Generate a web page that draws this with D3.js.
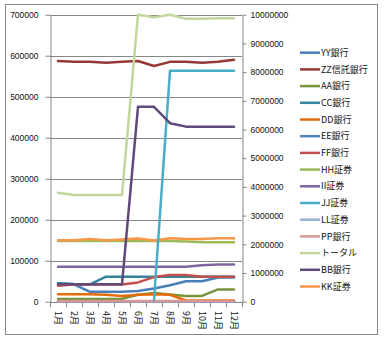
<!DOCTYPE html>
<html><head><meta charset="utf-8">
<script src="https://cdn.jsdelivr.net/npm/d3@7"></script>
<style>html,body{margin:0;padding:0;background:#fff;} svg{display:block;}</style>
</head><body><svg id="c" width="386" height="343"></svg>
<script>
const months = ['1月','2月','3月','4月','5月','6月','7月','8月','9月','10月','11月','12月'];
const leftTicks = [0,100000,200000,300000,400000,500000,600000,700000];
const rightTicks = [0,1000000,2000000,3000000,4000000,5000000,6000000,7000000,8000000,9000000,10000000];

// primary axis series
const yyBank   = [45000,42000,24000,24000,24000,26000,32000,40000,50000,50000,59000,59000];
const zzTrust  = [587000,585000,585000,583000,585000,587000,575000,585000,585000,583000,585000,590000];
const aaBank   = [6500,6500,6500,6500,7000,17000,21000,17500,14000,14000,30000,30000];
const ccBank   = [45000,43000,42000,61000,61000,61000,61000,61000,61000,61000,61000,61000];
const ddBank   = [18000,18000,18000,17000,14000,17000,18000,17000,3000,3000,3000,3000];
const eeBank   = [1000,1000,1000,1000,1000,1000,1000,1000,1000,1000,1000,1000];
const ffBank   = [39000,42000,42000,42000,42000,47000,60000,65000,65000,61000,61000,61000];
const hhSec    = [148000,148000,148000,148000,148000,148000,148000,148000,147000,145000,145000,145000];
const iiSec    = [85000,85000,85000,85000,85000,85000,85000,85000,85000,89000,91000,91000];
const llSec    = [800,800,800,800,800,800,800,800,800,800,800,800];
const ppBank   = [2000,2000,2000,2000,2000,2000,2000,2000,2000,2000,2000,2000];
const kkSec    = [150000,150000,153000,150000,152000,154000,149000,155000,153000,153000,155000,155000];
// secondary axis series
const jjSec    = [null,null,null,null,null,null,50000,8050000,8050000,8050000,8050000,8050000];
const total    = [3800000,3720000,3720000,3720000,3720000,10000000,9910000,10000000,9860000,9860000,9880000,9880000];
const bbBank   = [606000,606000,606000,606000,606000,6790000,6790000,6220000,6100000,6100000,6100000,6100000];

const legendNames = ['YY銀行','ZZ信託銀行','AA銀行','CC銀行','DD銀行','EE銀行','FF銀行','HH証券','II証券','JJ証券','LL証券','PP銀行','トータル','BB銀行','KK証券'];
const legendValues = [yyBank,zzTrust,aaBank,ccBank,ddBank,eeBank,ffBank,hhSec,iiSec,jjSec,llSec,ppBank,total,bbBank,kkSec];
const secondaryNames = ['JJ証券','トータル','BB銀行'];
const seriesColors = ['#4A7EBB','#953735','#77933C','#31859C','#E46C0A','#4F81BD','#C0504D','#9BBB59','#8064A2','#4BACC6','#95B3D7','#D99694','#C3D69B','#604A7B','#F79646'];

const svg = d3.select('#c');
const numFont = '"Liberation Sans", Arial, sans-serif';
const jpFont = '"Noto Sans CJK JP", "Noto Sans", sans-serif';
const grid = '#868686';

// chart border
svg.append('rect').attr('x',5.5).attr('y',4.5).attr('width',372).attr('height',330)
  .attr('fill','#fff').attr('stroke',grid).attr('stroke-width',1);

const x = d3.scaleBand().domain(months).range([50,242]);
const xc = m => x(m) + x.bandwidth()/2;
const yL = d3.scaleLinear().domain([0,700000]).range([301.7,14.7]);
const yR = d3.scaleLinear().domain([0,10000000]).range([301.7,14.7]);

// gridlines
svg.append('g').selectAll('line').data(leftTicks.slice(1)).join('line')
  .attr('x1',50).attr('x2',242)
  .attr('y1',d=>Math.round(yL(d))+0.5).attr('y2',d=>Math.round(yL(d))+0.5)
  .attr('stroke',grid).attr('stroke-width',1);

// left axis
const gL = svg.append('g').attr('transform','translate(50.5,0)')
  .call(d3.axisLeft(yL).tickValues(leftTicks).tickFormat(d3.format('d')).tickSize(5).tickSizeOuter(0).tickPadding(7));
// right axis
const gR = svg.append('g').attr('transform','translate(242.5,0)')
  .call(d3.axisRight(yR).tickValues(rightTicks).tickFormat(d3.format('d')).tickSize(4).tickSizeOuter(0).tickPadding(4));
[gL,gR].forEach(g=>{
  g.select('.domain').attr('stroke',grid);
  g.selectAll('.tick line').attr('stroke',grid);
  g.selectAll('.tick text').attr('font-family',numFont).attr('font-size','8.5px').attr('fill','#111');
});

// bottom axis
const gB = svg.append('g').attr('transform','translate(0,'+(yL(0)+0.3)+')')
  .call(d3.axisBottom(x).tickSize(0).tickSizeOuter(0));
gB.select('.domain').attr('stroke',grid);
gB.selectAll('.tick text')
  .attr('y',0).attr('x',9).attr('dy','0.35em')
  .attr('transform','rotate(90)').style('text-anchor','start')
  .attr('font-family',jpFont).attr('font-size','9px').attr('fill','#111');
const bounds = months.map(m=>x(m)).concat([x.range()[1]]);
gB.append('g').selectAll('line').data(bounds).join('line')
  .attr('x1',d=>Math.round(d)+0.5).attr('x2',d=>Math.round(d)+0.5)
  .attr('y1',0).attr('y2',5).attr('stroke',grid);

// series (primary first, then secondary)
const order = legendNames.map((n,i)=>i).filter(i=>!secondaryNames.includes(legendNames[i]))
  .concat(legendNames.map((n,i)=>i).filter(i=>secondaryNames.includes(legendNames[i])));
const gS = svg.append('g');
order.forEach(i=>{
  const sec = secondaryNames.includes(legendNames[i]);
  const ys = sec ? yR : yL;
  const line = d3.line().defined(d=>d[1]!==null).x(d=>xc(d[0])).y(d=>ys(d[1]));
  gS.append('path').datum(months.map((m,k)=>[m,legendValues[i][k]]))
    .attr('d',line).attr('fill','none').attr('stroke',seriesColors[i])
    .attr('stroke-width',2.5).attr('stroke-linejoin','round').attr('stroke-linecap','round');
});

// legend
const lg = svg.append('g');
legendNames.forEach((n,i)=>{
  const yy = 52.7 + i*16.7;
  lg.append('line').attr('x1',300).attr('x2',320).attr('y1',yy).attr('y2',yy)
    .attr('stroke',seriesColors[i]).attr('stroke-width',2.5);
  lg.append('text').attr('x',321).attr('y',yy).attr('dy','0.35em')
    .attr('font-family',jpFont).attr('font-size','9px').attr('fill','#111').text(n);
});
</script></body></html>
